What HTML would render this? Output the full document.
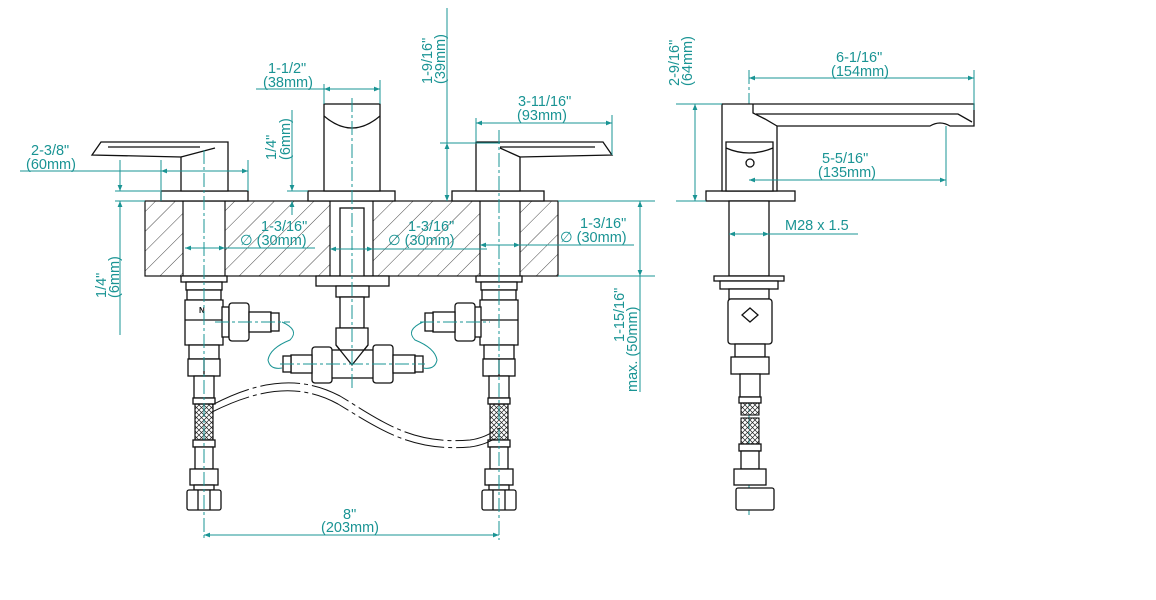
<!DOCTYPE html>
<html><head><meta charset="utf-8"><style>
html,body{margin:0;padding:0;background:#fff;}
svg{display:block;}
text{font-family:"Liberation Sans",sans-serif;font-size:14.5px;fill:#1a9494;}
.k{fill:none;stroke:#111;stroke-width:1.3;}
.kw{fill:#fff;stroke:#111;stroke-width:1.3;}
.t{fill:none;stroke:#1a9494;stroke-width:1;}
.c{fill:none;stroke:#1a9494;stroke-width:1;stroke-dasharray:14 3 3 3;}
.h{fill:none;stroke:#222;stroke-width:0.8;}
</style></head><body>
<svg width="1156" height="600" viewBox="0 0 1156 600" xmlns="http://www.w3.org/2000/svg">
<defs>
<marker id="a" viewBox="0 0 10 10" refX="10" refY="5" markerWidth="10" markerHeight="6" orient="auto-start-reverse" markerUnits="userSpaceOnUse"><path d="M0,1 L10,5 L0,9 Z" fill="#1a9494"/></marker>
<pattern id="hat" width="14" height="14" patternUnits="userSpaceOnUse" patternTransform="rotate(45)"><line x1="0" y1="0" x2="0" y2="14" stroke="#333" stroke-width="0.9"/></pattern>
<pattern id="mesh" width="5" height="5" patternUnits="userSpaceOnUse"><path d="M0,0 L5,5 M5,0 L0,5" stroke="#222" stroke-width="0.7"/></pattern>
<g id="stack">
<rect class="kw" x="-23" y="276" width="46" height="6"/>
<rect class="kw" x="-18" y="282" width="36" height="8"/>
<rect class="kw" x="-17" y="290" width="34" height="10"/>
<path class="kw" d="M-19,300 L19,300 L19,345 L-19,345 Z"/>
<line class="k" x1="-19" y1="320" x2="19" y2="320"/>
<rect class="kw" x="-15" y="345" width="30" height="14"/>
<rect class="kw" x="-16" y="359" width="32" height="17"/>
<line class="k" x1="0" y1="359" x2="0" y2="376"/>
<rect class="kw" x="-10" y="376" width="20" height="22"/>
<rect class="kw" x="-11" y="398" width="22" height="6"/>
<rect x="-9" y="404" width="18" height="36" fill="url(#mesh)" stroke="#111" stroke-width="1.2"/>
<rect class="kw" x="-11" y="440" width="22" height="7"/>
<rect class="kw" x="-9" y="447" width="18" height="22"/>
<rect class="kw" x="-14" y="469" width="28" height="16"/>
<rect class="kw" x="-10" y="485" width="20" height="5"/>
<rect class="kw" x="-17" y="490" width="34" height="20" rx="2"/>
<line class="k" x1="-6" y1="490" x2="-6" y2="510"/><line class="k" x1="6" y1="490" x2="6" y2="510"/>
</g>
</defs>

<rect x="145" y="201" width="413" height="75" fill="url(#hat)" stroke="#111" stroke-width="1.2"/>
<rect x="183" y="201" width="42" height="75" fill="#fff" stroke="#111" stroke-width="1.2"/>
<rect x="330" y="201" width="43" height="75" fill="#fff" stroke="#111" stroke-width="1.2"/>
<rect x="480" y="201" width="40" height="75" fill="#fff" stroke="#111" stroke-width="1.2"/>
<rect class="kw" x="340" y="208" width="24" height="90"/>

<rect class="kw" x="161" y="191" width="87" height="10"/>
<path class="kw" d="M101,142 L228,142 L228,191 L181,191 L181,157 L92,155 Z"/>
<path class="k" d="M108,147 L200,147 M181,157 L215,148"/>
<rect class="kw" x="308" y="191" width="87" height="10"/>
<rect class="kw" x="324" y="104" width="56" height="87"/>
<path class="k" d="M324,116 Q352,140 380,116"/>
<rect class="kw" x="452" y="191" width="92" height="10"/>
<path class="kw" d="M476,142 L603,142 L612,155 L520,157 L520,191 L476,191 Z"/>
<path class="k" d="M500,147 L595,147 M520,157 L500,148"/>

<use href="#stack" x="204"/>
<use href="#stack" x="499"/>
<text x="199" y="313" style="font-size:8px;fill:#111;font-weight:bold">N</text>
<rect class="kw" x="222" y="307" width="7" height="30"/>
<rect class="kw" x="229" y="303" width="20" height="38" rx="3"/>
<rect class="kw" x="249" y="312" width="22" height="20"/>
<rect class="kw" x="271" y="313" width="8" height="18"/>
<rect class="kw" x="474" y="307" width="7" height="30"/>
<rect class="kw" x="455" y="303" width="20" height="38" rx="3"/>
<rect class="kw" x="433" y="312" width="22" height="20"/>
<rect class="kw" x="425" y="313" width="8" height="18"/>

<rect class="kw" x="316" y="276" width="73" height="10"/>
<rect class="kw" x="336" y="286" width="33" height="11"/>
<rect class="kw" x="340" y="297" width="24" height="31"/>
<path class="kw" d="M336,328 L368,328 L368,345 L352,365 L336,345 Z"/>
<rect class="kw" x="330" y="350" width="45" height="28"/>
<path class="k" d="M336,345 L352,365 L368,345"/>
<rect class="kw" x="312" y="347" width="20" height="36" rx="3"/>
<rect class="kw" x="373" y="345" width="20" height="38" rx="3"/>
<rect class="kw" x="291" y="355" width="21" height="18"/>
<rect class="kw" x="393" y="355" width="22" height="18"/>
<rect class="kw" x="283" y="356" width="8" height="16"/>
<rect class="kw" x="415" y="356" width="8" height="16"/>

<path class="t" d="M282,322 Q300,330 290,340 Q270,348 268,360 Q270,370 282,368"/>
<path class="t" d="M423,322 Q405,330 415,340 Q435,348 437,360 Q435,370 423,368"/>
<path fill="none" stroke="#111" stroke-width="1" stroke-dasharray="40 4 4 4" d="M212,405 C260,380 300,375 340,396 C380,420 410,445 470,440 C485,438 492,432 500,428"/>
<path fill="none" stroke="#111" stroke-width="1" stroke-dasharray="40 4 4 4" d="M212,412 C260,388 300,383 338,404 C378,428 410,452 470,447 C485,445 492,440 500,436"/>

<line class="c" x1="204" y1="150" x2="204" y2="540"/>
<line class="c" x1="352" y1="98" x2="352" y2="390"/>
<line class="c" x1="499" y1="130" x2="499" y2="540"/>
<line class="c" x1="215" y1="322" x2="290" y2="322"/>
<line class="c" x1="420" y1="322" x2="490" y2="322"/>
<line class="c" x1="280" y1="364" x2="425" y2="364"/>

<line class="t" x1="20" y1="171" x2="248" y2="171"/>
<line class="t" x1="161" y1="171" x2="248" y2="171" marker-start="url(#a)" marker-end="url(#a)"/>
<line class="t" x1="161" y1="160" x2="161" y2="201"/><line class="t" x1="248" y1="160" x2="248" y2="191"/>
<text x="31" y="155">2-3/8"</text><text x="26" y="169">(60mm)</text>
<line class="t" x1="115" y1="191" x2="160" y2="191"/><line class="t" x1="115" y1="201" x2="145" y2="201"/>
<line class="t" x1="120" y1="160" x2="120" y2="191" marker-end="url(#a)"/>
<line class="t" x1="120" y1="201" x2="120" y2="335" marker-start="url(#a)"/>
<text transform="translate(106,298) rotate(-90)">1/4"</text><text transform="translate(119,298) rotate(-90)">(6mm)</text>

<line class="t" x1="256" y1="89" x2="380" y2="89"/>
<line class="t" x1="324" y1="89" x2="380" y2="89" marker-start="url(#a)" marker-end="url(#a)"/>
<line class="t" x1="324" y1="84" x2="324" y2="104"/><line class="t" x1="380" y1="80" x2="380" y2="104"/>
<text x="268" y="73">1-1/2"</text><text x="263" y="87">(38mm)</text>

<line class="t" x1="292" y1="110" x2="292" y2="191" marker-end="url(#a)"/>
<line class="t" x1="292" y1="201" x2="292" y2="215" marker-start="url(#a)"/>
<line class="t" x1="287" y1="191" x2="308" y2="191"/>
<text transform="translate(276,160) rotate(-90)">1/4"</text><text transform="translate(290,160) rotate(-90)">(6mm)</text>

<line class="t" x1="447" y1="8" x2="447" y2="201"/>
<line class="t" x1="447" y1="143" x2="447" y2="201" marker-start="url(#a)" marker-end="url(#a)"/>
<line class="t" x1="440" y1="143" x2="500" y2="143"/>
<text transform="translate(432,84) rotate(-90)">1-9/16"</text><text transform="translate(445,84) rotate(-90)">(39mm)</text>

<line class="t" x1="476" y1="123" x2="612" y2="123" marker-start="url(#a)" marker-end="url(#a)"/>
<line class="t" x1="476" y1="118" x2="476" y2="142"/><line class="t" x1="612" y1="115" x2="612" y2="155"/>
<text x="518" y="106">3-11/16"</text><text x="517" y="120">(93mm)</text>

<line class="t" x1="185" y1="248" x2="315" y2="248"/>
<line class="t" x1="185" y1="248" x2="225" y2="248" marker-start="url(#a)" marker-end="url(#a)"/>
<text x="261" y="231">1-3/16"</text><text x="240" y="245">∅ (30mm)</text>
<line class="t" x1="330" y1="249" x2="487" y2="249"/>
<line class="t" x1="330" y1="249" x2="373" y2="249" marker-start="url(#a)" marker-end="url(#a)"/>
<text x="408" y="231">1-3/16"</text><text x="388" y="245">∅ (30mm)</text>
<line class="t" x1="480" y1="245" x2="634" y2="245"/>
<line class="t" x1="480" y1="245" x2="520" y2="245" marker-start="url(#a)" marker-end="url(#a)"/>
<text x="580" y="228">1-3/16"</text><text x="560" y="242">∅ (30mm)</text>

<line class="t" x1="558" y1="201" x2="655" y2="201"/><line class="t" x1="558" y1="276" x2="655" y2="276"/>
<line class="t" x1="640" y1="201" x2="640" y2="276" marker-start="url(#a)" marker-end="url(#a)"/>
<line class="t" x1="640" y1="276" x2="640" y2="392"/>
<text transform="translate(624,342) rotate(-90)">1-15/16"</text>
<text transform="translate(637,392) rotate(-90)">max. (50mm)</text>

<line class="t" x1="204" y1="535" x2="499" y2="535" marker-start="url(#a)" marker-end="url(#a)"/>
<text x="343" y="519">8"</text><text x="321" y="532">(203mm)</text>

<line class="c" x1="749" y1="70" x2="749" y2="515"/>
<rect class="kw" x="706" y="191" width="89" height="10"/>
<path class="kw" d="M722,104 L974,104 L974,126 L950,126 Q940,120 930,126 L777,126 L777,191 L722,191 Z"/>
<path class="k" d="M753,104 L753,113 L765,119 L777,126 M756,114 L958,114 L972,122"/>
<path class="kw" d="M726,142 L773,142 L773,191 L726,191 Z"/>
<path class="k" d="M726,148 Q749,158 773,148"/><circle class="k" cx="750" cy="163" r="4"/>
<rect class="kw" x="729" y="201" width="40" height="75"/>
<rect class="kw" x="714" y="276" width="70" height="5"/>
<rect class="kw" x="720" y="281" width="58" height="8"/>
<rect class="kw" x="729" y="289" width="40" height="10"/>
<rect class="kw" x="728" y="299" width="44" height="45" rx="3"/>
<path class="k" d="M742,315 L750,308 L758,315 L750,322 Z"/>
<rect class="kw" x="735" y="344" width="30" height="13"/>
<rect class="kw" x="731" y="357" width="38" height="17"/>
<rect class="kw" x="740" y="374" width="20" height="23"/>
<rect class="kw" x="739" y="397" width="22" height="6"/>
<rect x="741" y="403" width="18" height="12" fill="url(#mesh)" stroke="#111" stroke-width="1.1"/>
<rect x="741" y="418" width="18" height="26" fill="url(#mesh)" stroke="#111" stroke-width="1.1"/>
<rect class="kw" x="739" y="444" width="22" height="7"/>
<rect class="kw" x="741" y="451" width="18" height="18"/>
<rect class="kw" x="734" y="469" width="32" height="16"/>
<rect class="kw" x="736" y="488" width="38" height="22" rx="2"/>

<line class="t" x1="676" y1="104" x2="722" y2="104"/><line class="t" x1="676" y1="201" x2="706" y2="201"/>
<line class="t" x1="695" y1="104" x2="695" y2="201" marker-start="url(#a)" marker-end="url(#a)"/>
<text transform="translate(679,86) rotate(-90)">2-9/16"</text><text transform="translate(692,86) rotate(-90)">(64mm)</text>

<line class="t" x1="749" y1="78" x2="974" y2="78" marker-start="url(#a)" marker-end="url(#a)"/>
<line class="t" x1="974" y1="70" x2="974" y2="110"/>
<text x="836" y="62">6-1/16"</text><text x="831" y="76">(154mm)</text>

<line class="t" x1="749" y1="180" x2="946" y2="180" marker-start="url(#a)" marker-end="url(#a)"/>
<line class="t" x1="946" y1="126" x2="946" y2="186"/>
<text x="822" y="163">5-5/16"</text><text x="818" y="177">(135mm)</text>

<line class="t" x1="729" y1="234" x2="858" y2="234"/>
<line class="t" x1="729" y1="234" x2="769" y2="234" marker-start="url(#a)" marker-end="url(#a)"/>
<text x="785" y="230">M28 x 1.5</text>
</svg>
</body></html>
